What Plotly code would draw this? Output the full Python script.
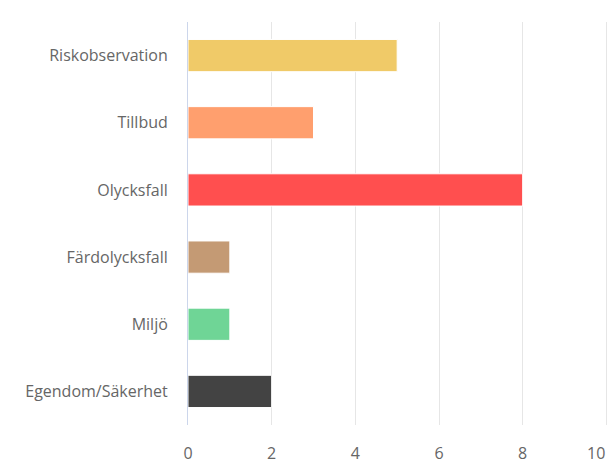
import plotly.graph_objects as go

categories = ["Riskobservation", "Tillbud", "Olycksfall", "Färdolycksfall", "Miljö", "Egendom/Säkerhet"]
values = [5, 3, 8, 1, 1, 2]
colors = ["#F0CA68", "#FF9F6E", "#FF4F4F", "#C49A74", "#6FD596", "#434343"]
x_ticks = [0, 2, 4, 6, 8, 10]
x_tick_labels = ["0", "2", "4", "6", "8", "10"]

# the page body adds an 8px offset, so the figure is sized to fit the window
W, H = 608, 464
L, R, T, B = 180, 8, 14, 47

# the last label is pulled inside the plot edge (as in the original), drawn as an annotation
ticktext = x_tick_labels[:-1] + [""]

fig = go.Figure()
fig.add_trace(go.Bar(
    y=categories, x=values, orientation="h",
    marker=dict(color=colors, line=dict(color="#FFFFFF", width=1)),
    hoverinfo="x+y",
))

fig.update_layout(
    width=W, height=H,
    margin=dict(l=L, r=R, t=T, b=B, autoexpand=False),
    paper_bgcolor="#FFFFFF", plot_bgcolor="#FFFFFF",
    bargap=0.52,
    showlegend=False,
    font=dict(family="Open Sans, Noto Sans, sans-serif", size=16, color="#666666"),
    xaxis=dict(range=[0, 10.04], tickvals=x_ticks, ticktext=ticktext,
               showgrid=True, gridcolor="#E6E6E6",
               gridwidth=1, zeroline=False, showline=False, ticks="", automargin=False,
               tickfont=dict(size=16, color="#666666"), ticklabelstandoff=17, fixedrange=True),
    yaxis=dict(categoryorder="array", categoryarray=categories, autorange="reversed",
               showgrid=False, zeroline=False, showline=True, linecolor="#CCD6EB", linewidth=1,
               ticks="", automargin=False,
               tickfont=dict(size=16, color="#666666"), ticklabelstandoff=16, fixedrange=True),
    annotations=[dict(
        x=x_ticks[-1], y=0, xref="x", yref="paper", text=x_tick_labels[-1],
        xanchor="right", yanchor="top", showarrow=False, yshift=-15, xshift=1,
        font=dict(size=16, color="#666666"),
    )],
)

fig.write_html("out.html")
